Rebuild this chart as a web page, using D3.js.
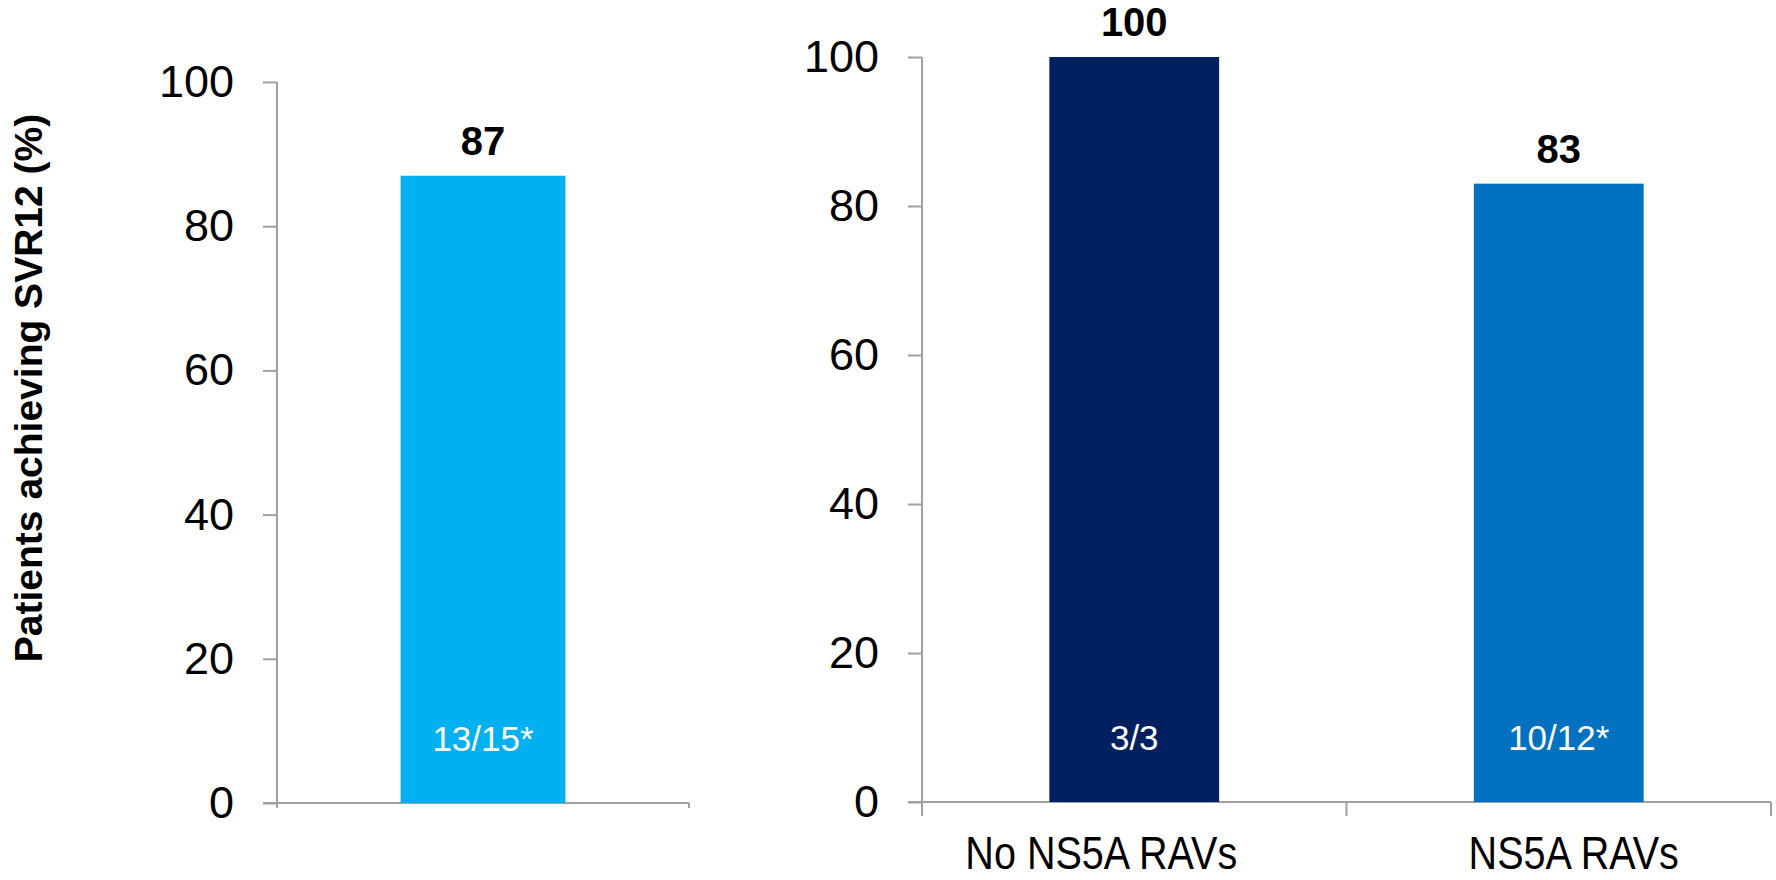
<!DOCTYPE html>
<html>
<head>
<meta charset="utf-8">
<script src="https://cdn.jsdelivr.net/npm/d3@7"></script>
<style>
  html, body { margin: 0; padding: 0; background: #fff; }
  svg { display: block; font-family: "Liberation Sans", Arial, sans-serif; }
</style>
</head>
<body>
<svg id="chart" width="1776" height="880"></svg>
<script>
// Overall SVR12 rate
const overallCategories = ["Overall"];
const overallValues = [87];
const overallCounts = ["13/15*"];

// SVR12 by baseline NS5A RAV status
const ravCategories = ["No NS5A RAVs", "NS5A RAVs"];
const ravValues = [100, 83];
const ravCounts = ["3/3", "10/12*"];

const yTicks = [0, 20, 40, 60, 80, 100];
const yAxisTitle = "Patients achieving SVR12 (%)";

const overallColors = ["#00b0f0"];
const ravColors = ["#002060", "#0070c0"];

// horizontal nudges for the category captions under the right panel
const captionShift = [-33, 15];

const svg = d3.select("#chart");
const axisColor = "#a0a0a0";

function panel(cfg) {
  const x = d3.scaleBand()
    .domain(cfg.categories)
    .range([cfg.left, cfg.right])
    .paddingInner(0.6)
    .paddingOuter(0.3);
  const y = d3.scaleLinear().domain([0, 100]).range([cfg.bottom, cfg.top]);

  const g = svg.append("g");

  // y axis
  const yAxis = g.append("g")
    .attr("transform", `translate(${cfg.left},0)`)
    .call(d3.axisLeft(y).tickValues(yTicks).tickSize(14).tickSizeOuter(0).tickPadding(29));
  yAxis.select(".domain").attr("stroke", axisColor).attr("stroke-width", 2)
    .attr("d", `M0,${y(100)}V${cfg.bottom + cfg.drop}`);
  yAxis.selectAll(".tick line").attr("stroke", axisColor).attr("stroke-width", 2);
  yAxis.selectAll(".tick text")
    .attr("fill", "#000")
    .style("font-size", "45px")
    .style("font-family", "'Liberation Sans', Arial, sans-serif");

  // x axis baseline and category boundary ticks
  g.append("line")
    .attr("x1", cfg.left - 14).attr("x2", cfg.right)
    .attr("y1", cfg.bottom).attr("y2", cfg.bottom)
    .attr("stroke", axisColor).attr("stroke-width", 2);
  const step = x.step();
  const bounds = cfg.categories.map((c, i) => cfg.left + i * step).slice(1).concat([cfg.right]);
  g.selectAll(".xb").data(bounds).enter().append("line")
    .attr("x1", d => d).attr("x2", d => d)
    .attr("y1", cfg.bottom).attr("y2", cfg.bottom + cfg.drop)
    .attr("stroke", axisColor).attr("stroke-width", 2);

  const data = cfg.categories.map((c, i) => ({ c, i, v: cfg.values[i], n: cfg.counts[i], col: cfg.colors[i] }));

  g.selectAll(".bar").data(data).enter().append("rect")
    .attr("x", d => x(d.c))
    .attr("y", d => y(d.v))
    .attr("width", x.bandwidth())
    .attr("height", d => y(0) - y(d.v))
    .attr("fill", d => d.col);

  g.selectAll(".val").data(data).enter().append("text")
    .attr("x", d => x(d.c) + x.bandwidth() / 2)
    .attr("y", d => y(d.v) - 21)
    .attr("text-anchor", "middle")
    .style("font-size", "40px").style("font-weight", "bold")
    .text(d => d.v);

  g.selectAll(".cnt").data(data).enter().append("text")
    .attr("x", d => x(d.c) + x.bandwidth() / 2)
    .attr("y", y(0) - 52)
    .attr("text-anchor", "middle")
    .attr("fill", "#fff")
    .style("font-size", "35px")
    .text(d => d.n);

  if (cfg.showLabels) {
    g.selectAll(".cat").data(data).enter().append("text")
      .attr("transform", d => `translate(${x(d.c) + x.bandwidth() / 2 + (cfg.shift ? cfg.shift[d.i] : 0)},${cfg.labelY}) scale(0.86,1)`)
      .attr("text-anchor", "middle")
      .style("font-size", "46px")
      .text(d => d.c);
  }
}

panel({ categories: overallCategories, values: overallValues, counts: overallCounts, colors: overallColors,
        left: 277, right: 689, top: 82, bottom: 803, drop: 5, showLabels: false });

panel({ categories: ravCategories, values: ravValues, counts: ravCounts, colors: ravColors,
        left: 922, right: 1771, top: 57, bottom: 802, drop: 14, showLabels: true, labelY: 869,
        shift: captionShift });

svg.append("text")
  .attr("transform", "translate(42,388) rotate(-90)")
  .attr("text-anchor", "middle")
  .style("font-size", "39px").style("font-weight", "bold")
  .text(yAxisTitle);
</script>
</body>
</html>
